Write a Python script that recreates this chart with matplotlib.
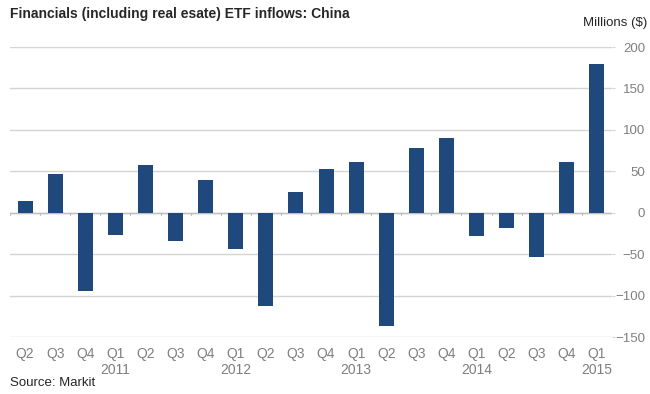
import numpy as np
import matplotlib
matplotlib.use("Agg")
import matplotlib.pyplot as plt

plt.rcParams['font.family'] = ['Liberation Sans', 'DejaVu Sans']

quarters = ['Q2', 'Q3', 'Q4', 'Q1', 'Q2', 'Q3', 'Q4', 'Q1', 'Q2', 'Q3',
            'Q4', 'Q1', 'Q2', 'Q3', 'Q4', 'Q1', 'Q2', 'Q3', 'Q4', 'Q1']
years = ['', '', '', '2011', '', '', '', '2012', '', '', '', '2013',
         '', '', '', '2014', '', '', '', '2015']
inflows = [14, 47, -94, -27, 58, -34, 40, -44, -112, 25,
           53, 61, -137, 78, 90, -28, -18, -54, 61, 180]

bar_color = '#1f497d'
grid_color = '#d4d4d4'
text_gray = '#7f7f7f'

fig = plt.figure(figsize=(6.5, 3.94), dpi=100)
ax = fig.add_axes([10 / 650, 1 - 337 / 394, 602 / 650, 290 / 394])

x = np.arange(len(inflows))
ax.bar(x, inflows, width=0.5, color=bar_color, zorder=3)

ax.set_xlim(-0.5, len(inflows) - 0.5)
ax.set_ylim(-150, 200)
ax.set_yticks(np.arange(-150, 201, 50))
ax.yaxis.tick_right()
ax.tick_params(axis='y', length=2, color=grid_color, labelcolor=text_gray,
               labelsize=9.5, pad=22)
for lab in ax.get_yticklabels():
    lab.set_horizontalalignment('right')
ax.grid(axis='y', color=grid_color, linewidth=1, zorder=0)
ax.axhline(0, color='#bfbfbf', linewidth=1, zorder=2)

# small category separators on zero line
for xb in np.arange(-0.5, len(inflows), 1):
    ax.plot([xb, xb], [0, -2.5], color='#bfbfbf', linewidth=0.8, zorder=2)

ax.set_xticks(x)
ax.set_xticklabels([f'{q}\n{y}' for q, y in zip(quarters, years)],
                   color=text_gray, fontsize=10, linespacing=1.25)
ax.tick_params(axis='x', length=0, pad=7)

for s in ax.spines.values():
    s.set_visible(False)

fig.text(10 / 650, 1 - 14 / 394, 'Financials (including real esate) ETF inflows: China',
         fontsize=10, fontweight='bold', color='#262626', ha='left', va='center')
fig.text(647 / 650, 1 - 23 / 394, 'Millions ($)', fontsize=9.5, color='#262626',
         ha='right', va='center')
fig.text(10 / 650, 1 - 383 / 394, 'Source: Markit', fontsize=9.5, color='#262626',
         ha='left', va='center')

fig.savefig('out.png', dpi=100)
